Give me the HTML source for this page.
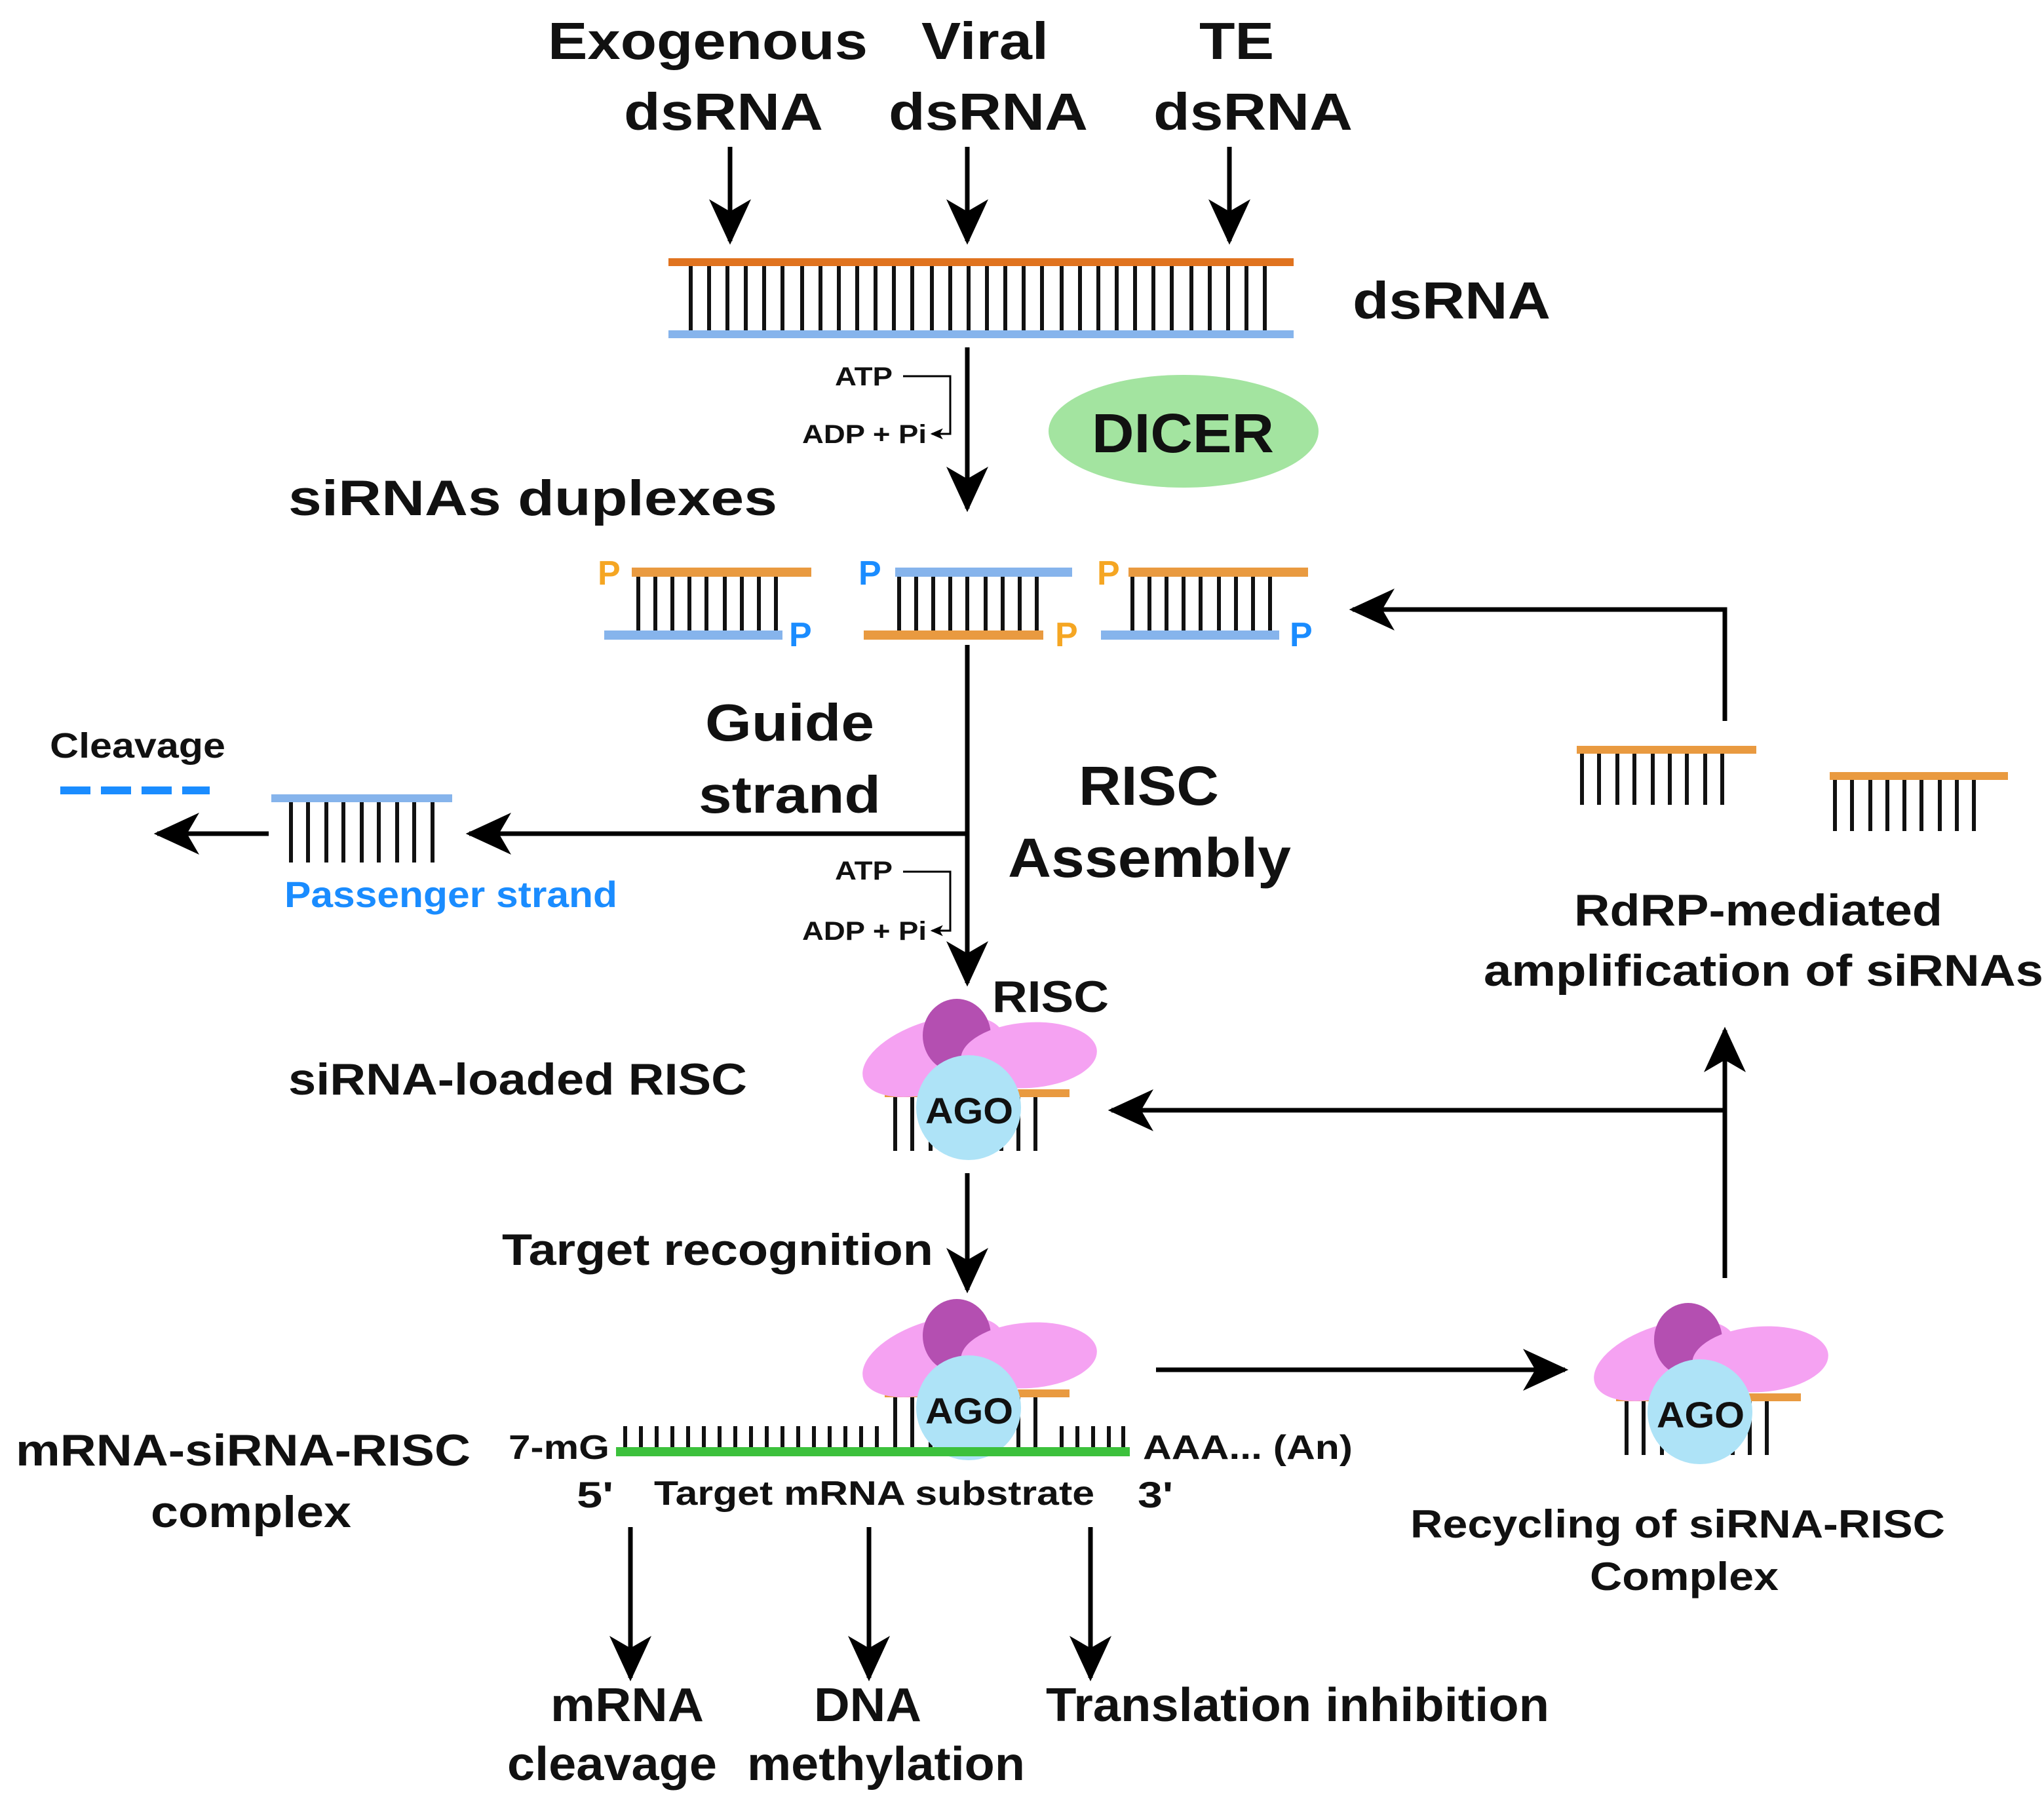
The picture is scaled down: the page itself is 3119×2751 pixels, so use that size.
<!DOCTYPE html>
<html><head><meta charset="utf-8"><style>
html,body{margin:0;padding:0;background:#fff}
svg{display:block}
text{font-family:"Liberation Sans",Arial,sans-serif;font-weight:bold;fill:#111}
</style></head><body>
<svg width="3119" height="2751" viewBox="0 0 1559.5 1375.5" xmlns="http://www.w3.org/2000/svg">
<defs>
<marker id="ah" markerUnits="userSpaceOnUse" markerWidth="40" markerHeight="40" refX="0" refY="0" viewBox="-26 -14 30 28" orient="auto" overflow="visible">
<path d="M2,0 L-24,-12 L-17,0 L-24,12 Z" fill="#000"/>
</marker>
<marker id="sa" markerUnits="userSpaceOnUse" markerWidth="12" markerHeight="12" viewBox="-8 -5 10 10" orient="auto" overflow="visible">
<path d="M1,0 L-7,-3.5 L-5,0 L-7,3.5 Z" fill="#000"/>
</marker>
</defs>
<rect width="1559.5" height="1375.5" fill="#fff"/>

<text x="418" y="45" font-size="40" textLength="244" lengthAdjust="spacingAndGlyphs">Exogenous</text>
<text x="476" y="99" font-size="40" textLength="152" lengthAdjust="spacingAndGlyphs">dsRNA</text>
<text x="703" y="45" font-size="40" textLength="97" lengthAdjust="spacingAndGlyphs">Viral</text>
<text x="678" y="99" font-size="40" textLength="152" lengthAdjust="spacingAndGlyphs">dsRNA</text>
<text x="915" y="45" font-size="40" textLength="57" lengthAdjust="spacingAndGlyphs">TE</text>
<text x="880" y="99" font-size="40" textLength="152" lengthAdjust="spacingAndGlyphs">dsRNA</text>

<g stroke="#000" stroke-width="3.5" marker-end="url(#ah)">
<line x1="557" y1="112" x2="557" y2="184"/>
<line x1="738" y1="112" x2="738" y2="184"/>
<line x1="938" y1="112" x2="938" y2="184"/>
</g>

<g stroke="#111" stroke-width="3">
<line x1="527" y1="202" x2="527" y2="252"/><line x1="541" y1="202" x2="541" y2="252"/><line x1="555" y1="202" x2="555" y2="252"/><line x1="569" y1="202" x2="569" y2="252"/><line x1="583" y1="202" x2="583" y2="252"/><line x1="597" y1="202" x2="597" y2="252"/><line x1="612" y1="202" x2="612" y2="252"/><line x1="626" y1="202" x2="626" y2="252"/><line x1="640" y1="202" x2="640" y2="252"/><line x1="654" y1="202" x2="654" y2="252"/><line x1="668" y1="202" x2="668" y2="252"/><line x1="682" y1="202" x2="682" y2="252"/><line x1="696" y1="202" x2="696" y2="252"/><line x1="711" y1="202" x2="711" y2="252"/><line x1="725" y1="202" x2="725" y2="252"/><line x1="739" y1="202" x2="739" y2="252"/><line x1="753" y1="202" x2="753" y2="252"/><line x1="767" y1="202" x2="767" y2="252"/><line x1="781" y1="202" x2="781" y2="252"/><line x1="795" y1="202" x2="795" y2="252"/><line x1="810" y1="202" x2="810" y2="252"/><line x1="824" y1="202" x2="824" y2="252"/><line x1="838" y1="202" x2="838" y2="252"/><line x1="852" y1="202" x2="852" y2="252"/><line x1="866" y1="202" x2="866" y2="252"/><line x1="880" y1="202" x2="880" y2="252"/><line x1="894" y1="202" x2="894" y2="252"/><line x1="909" y1="202" x2="909" y2="252"/><line x1="923" y1="202" x2="923" y2="252"/><line x1="937" y1="202" x2="937" y2="252"/><line x1="951" y1="202" x2="951" y2="252"/><line x1="965" y1="202" x2="965" y2="252"/>
</g>
<rect x="510" y="197" width="477" height="6" fill="#e0731f"/>
<rect x="510" y="252" width="477" height="6" fill="#86b4ec"/>
<text x="1032" y="243" font-size="40" textLength="151" lengthAdjust="spacingAndGlyphs">dsRNA</text>

<line x1="738" y1="265" x2="738" y2="388" stroke="#000" stroke-width="3.5" marker-end="url(#ah)"/>
<text x="637" y="294" font-size="20" textLength="44" lengthAdjust="spacingAndGlyphs">ATP</text>
<text x="612" y="338" font-size="20" textLength="95" lengthAdjust="spacingAndGlyphs">ADP + Pi</text>
<polyline points="689,287 725,287 725,331 711,331" fill="none" stroke="#000" stroke-width="1.5" marker-end="url(#sa)"/>
<ellipse cx="903" cy="329" rx="103" ry="43" fill="#a3e4a0"/>
<text x="833" y="345" font-size="42" textLength="139" lengthAdjust="spacingAndGlyphs">DICER</text>

<text x="220" y="393" font-size="38" textLength="373" lengthAdjust="spacingAndGlyphs">siRNAs duplexes</text>

<g stroke="#111" stroke-width="3">
<line x1="487" y1="440" x2="487" y2="482"/><line x1="500" y1="440" x2="500" y2="482"/><line x1="513" y1="440" x2="513" y2="482"/><line x1="526" y1="440" x2="526" y2="482"/><line x1="539" y1="440" x2="539" y2="482"/><line x1="553" y1="440" x2="553" y2="482"/><line x1="566" y1="440" x2="566" y2="482"/><line x1="579" y1="440" x2="579" y2="482"/><line x1="592" y1="440" x2="592" y2="482"/>
<line x1="686" y1="440" x2="686" y2="482"/><line x1="699" y1="440" x2="699" y2="482"/><line x1="712" y1="440" x2="712" y2="482"/><line x1="725" y1="440" x2="725" y2="482"/><line x1="738" y1="440" x2="738" y2="482"/><line x1="752" y1="440" x2="752" y2="482"/><line x1="765" y1="440" x2="765" y2="482"/><line x1="778" y1="440" x2="778" y2="482"/><line x1="791" y1="440" x2="791" y2="482"/>
<line x1="864" y1="440" x2="864" y2="482"/><line x1="877" y1="440" x2="877" y2="482"/><line x1="890" y1="440" x2="890" y2="482"/><line x1="903" y1="440" x2="903" y2="482"/><line x1="916" y1="440" x2="916" y2="482"/><line x1="930" y1="440" x2="930" y2="482"/><line x1="943" y1="440" x2="943" y2="482"/><line x1="956" y1="440" x2="956" y2="482"/><line x1="969" y1="440" x2="969" y2="482"/>
</g>
<rect x="482" y="433" width="137" height="7" fill="#e99a40"/>
<rect x="461" y="481" width="136" height="7" fill="#86b4ec"/>
<rect x="683" y="433" width="135" height="7" fill="#86b4ec"/>
<rect x="659" y="481" width="137" height="7" fill="#e99a40"/>
<rect x="861" y="433" width="137" height="7" fill="#e99a40"/>
<rect x="840" y="481" width="136" height="7" fill="#86b4ec"/>
<g font-size="26">
<text x="456" y="446" style="fill:#f5a623">P</text>
<text x="602" y="493" style="fill:#1a8cff">P</text>
<text x="655" y="446" style="fill:#1a8cff">P</text>
<text x="805" y="493" style="fill:#f5a623">P</text>
<text x="837" y="446" style="fill:#f5a623">P</text>
<text x="984" y="493" style="fill:#1a8cff">P</text>
</g>

<line x1="738" y1="492" x2="738" y2="750" stroke="#000" stroke-width="3.5" marker-end="url(#ah)"/>
<line x1="738" y1="636" x2="358" y2="636" stroke="#000" stroke-width="3.5" marker-end="url(#ah)"/>
<text x="538" y="565" font-size="40" textLength="129" lengthAdjust="spacingAndGlyphs">Guide</text>
<text x="533" y="620" font-size="40" textLength="139" lengthAdjust="spacingAndGlyphs">strand</text>
<text x="823" y="614" font-size="42" textLength="107" lengthAdjust="spacingAndGlyphs">RISC</text>
<text x="769" y="669" font-size="42" textLength="216" lengthAdjust="spacingAndGlyphs">Assembly</text>
<text x="637" y="671" font-size="20" textLength="44" lengthAdjust="spacingAndGlyphs">ATP</text>
<text x="612" y="717" font-size="20" textLength="95" lengthAdjust="spacingAndGlyphs">ADP + Pi</text>
<polyline points="689,665 725,665 725,710 711,710" fill="none" stroke="#000" stroke-width="1.5" marker-end="url(#sa)"/>

<g stroke="#111" stroke-width="3">
<line x1="222" y1="612" x2="222" y2="658"/><line x1="235" y1="612" x2="235" y2="658"/><line x1="249" y1="612" x2="249" y2="658"/><line x1="262" y1="612" x2="262" y2="658"/><line x1="276" y1="612" x2="276" y2="658"/><line x1="289" y1="612" x2="289" y2="658"/><line x1="303" y1="612" x2="303" y2="658"/><line x1="316" y1="612" x2="316" y2="658"/><line x1="330" y1="612" x2="330" y2="658"/>
</g>
<rect x="207" y="606" width="138" height="6" fill="#86b4ec"/>
<text x="217" y="692" font-size="28" style="fill:#1a8cff" textLength="254" lengthAdjust="spacingAndGlyphs">Passenger strand</text>
<line x1="205" y1="636" x2="120" y2="636" stroke="#000" stroke-width="3.5" marker-end="url(#ah)"/>
<text x="38" y="578" font-size="27" textLength="134" lengthAdjust="spacingAndGlyphs">Cleavage</text>
<line x1="46" y1="603" x2="160" y2="603" stroke="#1a8cff" stroke-width="6" stroke-dasharray="23 8"/>

<text x="757" y="772" font-size="34" textLength="89" lengthAdjust="spacingAndGlyphs">RISC</text>
<text x="220" y="835" font-size="34" textLength="350" lengthAdjust="spacingAndGlyphs">siRNA-loaded RISC</text>
<g id="risc">
<g stroke="#111" stroke-width="3">
<line x1="683" y1="837" x2="683" y2="878"/><line x1="696" y1="837" x2="696" y2="878"/><line x1="710" y1="837" x2="710" y2="878"/><line x1="723" y1="837" x2="723" y2="878"/><line x1="737" y1="837" x2="737" y2="878"/><line x1="750" y1="837" x2="750" y2="878"/><line x1="764" y1="837" x2="764" y2="878"/><line x1="777" y1="837" x2="777" y2="878"/><line x1="790" y1="837" x2="790" y2="878"/>
</g>
<rect x="675" y="831" width="141" height="6" fill="#e99a40"/>
<ellipse cx="712" cy="806" rx="56" ry="27" fill="#f5a2f2" transform="rotate(-18 712 806)"/>
<ellipse cx="730" cy="790" rx="26" ry="28" fill="#b44fb1"/>
<ellipse cx="785" cy="805" rx="52" ry="25" fill="#f5a2f2" transform="rotate(-4 785 805)"/>
<circle cx="739" cy="845" r="40" fill="#aee3f7"/>
<text x="706" y="857" font-size="28" textLength="67" lengthAdjust="spacingAndGlyphs">AGO</text>
</g>

<line x1="1316" y1="847" x2="848" y2="847" stroke="#000" stroke-width="3.5" marker-end="url(#ah)"/>
<line x1="738" y1="895" x2="738" y2="984" stroke="#000" stroke-width="3.5" marker-end="url(#ah)"/>
<text x="383" y="965" font-size="34" textLength="329" lengthAdjust="spacingAndGlyphs">Target recognition</text>

<g stroke="#111" stroke-width="3">
<line x1="477" y1="1088" x2="477" y2="1104"/><line x1="489" y1="1088" x2="489" y2="1104"/><line x1="501" y1="1088" x2="501" y2="1104"/><line x1="513" y1="1088" x2="513" y2="1104"/><line x1="525" y1="1088" x2="525" y2="1104"/><line x1="537" y1="1088" x2="537" y2="1104"/><line x1="549" y1="1088" x2="549" y2="1104"/><line x1="561" y1="1088" x2="561" y2="1104"/><line x1="573" y1="1088" x2="573" y2="1104"/><line x1="585" y1="1088" x2="585" y2="1104"/><line x1="597" y1="1088" x2="597" y2="1104"/><line x1="609" y1="1088" x2="609" y2="1104"/><line x1="621" y1="1088" x2="621" y2="1104"/><line x1="633" y1="1088" x2="633" y2="1104"/><line x1="645" y1="1088" x2="645" y2="1104"/><line x1="657" y1="1088" x2="657" y2="1104"/><line x1="669" y1="1088" x2="669" y2="1104"/><line x1="810" y1="1088" x2="810" y2="1104"/><line x1="822" y1="1088" x2="822" y2="1104"/><line x1="834" y1="1088" x2="834" y2="1104"/><line x1="846" y1="1088" x2="846" y2="1104"/><line x1="857" y1="1088" x2="857" y2="1104"/>
</g>
<use href="#risc" transform="translate(0 229)"/>
<rect x="470" y="1104" width="392" height="7" fill="#3cc13c"/>
<text x="388" y="1113" font-size="26" textLength="77" lengthAdjust="spacingAndGlyphs">7-mG</text>
<text x="872" y="1113" font-size="26" textLength="160" lengthAdjust="spacingAndGlyphs">AAA... (An)</text>
<text x="440" y="1150" font-size="28" textLength="28" lengthAdjust="spacingAndGlyphs">5'</text>
<text x="499" y="1148" font-size="26" textLength="336" lengthAdjust="spacingAndGlyphs">Target mRNA substrate</text>
<text x="868" y="1150" font-size="28" textLength="27" lengthAdjust="spacingAndGlyphs">3'</text>
<text x="12" y="1118" font-size="34" textLength="347" lengthAdjust="spacingAndGlyphs">mRNA-siRNA-RISC</text>
<text x="115" y="1165" font-size="34" textLength="153" lengthAdjust="spacingAndGlyphs">complex</text>

<g stroke="#000" stroke-width="3.5" marker-end="url(#ah)">
<line x1="481" y1="1165" x2="481" y2="1280"/>
<line x1="663" y1="1165" x2="663" y2="1280"/>
<line x1="832" y1="1165" x2="832" y2="1280"/>
<line x1="882" y1="1045" x2="1194" y2="1045"/>
<line x1="1316" y1="975" x2="1316" y2="786"/>
</g>
<text x="420" y="1313" font-size="36" textLength="117" lengthAdjust="spacingAndGlyphs">mRNA</text>
<text x="387" y="1358" font-size="36" textLength="160" lengthAdjust="spacingAndGlyphs">cleavage</text>
<text x="621" y="1313" font-size="36" textLength="82" lengthAdjust="spacingAndGlyphs">DNA</text>
<text x="570" y="1358" font-size="36" textLength="212" lengthAdjust="spacingAndGlyphs">methylation</text>
<text x="798" y="1313" font-size="36" textLength="384" lengthAdjust="spacingAndGlyphs">Translation inhibition</text>

<use href="#risc" transform="translate(558 232)"/>
<text x="1076" y="1173" font-size="30" textLength="408" lengthAdjust="spacingAndGlyphs">Recycling of siRNA-RISC</text>
<text x="1213" y="1213" font-size="30" textLength="144" lengthAdjust="spacingAndGlyphs">Complex</text>

<text x="1201" y="706" font-size="34" textLength="281" lengthAdjust="spacingAndGlyphs">RdRP-mediated</text>
<text x="1132" y="752" font-size="34" textLength="427" lengthAdjust="spacingAndGlyphs">amplification of siRNAs</text>
<g stroke="#111" stroke-width="3">
<line x1="1207" y1="575" x2="1207" y2="614"/><line x1="1220" y1="575" x2="1220" y2="614"/><line x1="1234" y1="575" x2="1234" y2="614"/><line x1="1247" y1="575" x2="1247" y2="614"/><line x1="1261" y1="575" x2="1261" y2="614"/><line x1="1274" y1="575" x2="1274" y2="614"/><line x1="1287" y1="575" x2="1287" y2="614"/><line x1="1301" y1="575" x2="1301" y2="614"/><line x1="1314" y1="575" x2="1314" y2="614"/>
<line x1="1400" y1="595" x2="1400" y2="634"/><line x1="1413" y1="595" x2="1413" y2="634"/><line x1="1427" y1="595" x2="1427" y2="634"/><line x1="1440" y1="595" x2="1440" y2="634"/><line x1="1453" y1="595" x2="1453" y2="634"/><line x1="1466" y1="595" x2="1466" y2="634"/><line x1="1480" y1="595" x2="1480" y2="634"/><line x1="1493" y1="595" x2="1493" y2="634"/><line x1="1506" y1="595" x2="1506" y2="634"/>
</g>
<rect x="1203" y="569" width="137" height="6" fill="#e99a40"/>
<rect x="1396" y="589" width="136" height="6" fill="#e99a40"/>
<polyline points="1316,550 1316,465 1032,465" fill="none" stroke="#000" stroke-width="3.5" marker-end="url(#ah)"/>
</svg>
</body></html>
